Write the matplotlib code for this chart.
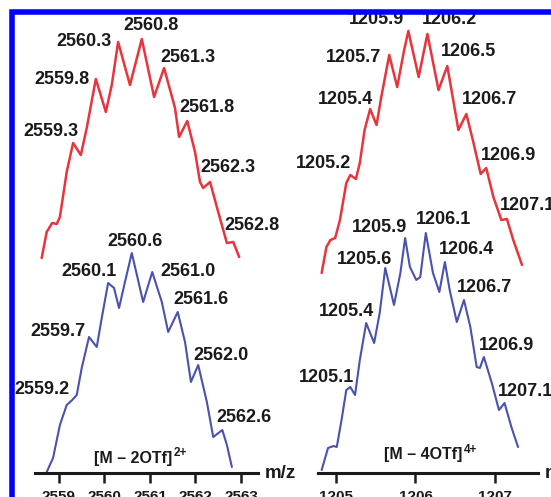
import matplotlib
matplotlib.use("Agg")
import matplotlib.pyplot as plt
from matplotlib.patches import Rectangle

plt.rcParams['font.family'] = ['Liberation Sans', 'DejaVu Sans']
plt.rcParams['font.weight'] = 'bold'

# [M - 2OTf]2+ isotope envelope, calculated (red) and measured (blue)
mz2_calc = [2558.62, 2558.73, 2558.85, 2558.95, 2559.02, 2559.17, 2559.31, 2559.48,
            2559.61, 2559.81, 2560.03, 2560.16, 2560.30, 2560.56, 2560.82, 2561.09,
            2561.31, 2561.55, 2561.64, 2561.82, 2561.99, 2562.10, 2562.17, 2562.32,
            2562.50, 2562.69, 2562.83, 2562.96]
int2_calc = [215, 241, 250, 249, 256, 301, 330, 318,
             345, 394, 361, 388, 431, 388, 434, 376,
             405, 365, 336, 352, 321, 291, 285, 291,
             261, 230, 231, 216]
mz2_obs = [2558.73, 2558.87, 2559.02, 2559.17, 2559.29, 2559.39, 2559.50, 2559.66,
           2559.83, 2559.94, 2560.08, 2560.21, 2560.32, 2560.45, 2560.60, 2560.85,
           2561.05, 2561.26, 2561.40, 2561.61, 2561.77, 2561.90, 2562.06, 2562.25,
           2562.39, 2562.59, 2562.69, 2562.80]
int2_obs = [1, 15, 48, 68, 73, 78, 105, 136,
            126, 155, 190, 185, 165, 191, 220, 171,
            201, 171, 141, 161, 131, 91, 108, 71,
            36, 43, 28, 6]

# [M - 4OTf]4+ isotope envelope
mz4_calc = [1204.82, 1204.88, 1204.93, 1204.99, 1205.05, 1205.13, 1205.18, 1205.25,
            1205.30, 1205.36, 1205.43, 1205.51, 1205.57, 1205.67, 1205.77, 1205.85,
            1205.91, 1206.04, 1206.15, 1206.29, 1206.40, 1206.54, 1206.64, 1206.73,
            1206.82, 1206.89, 1206.98, 1207.08, 1207.15, 1207.23, 1207.34]
int4_calc = [200, 226, 233, 235, 253, 290, 298, 294,
             310, 343, 364, 348, 376, 418, 386, 420,
             442, 396, 439, 383, 407, 343, 359, 330,
             299, 305, 276, 253, 254, 233, 208]
mz4_obs = [1204.82, 1204.90, 1204.97, 1205.01, 1205.07, 1205.13, 1205.18, 1205.24,
           1205.30, 1205.38, 1205.48, 1205.55, 1205.62, 1205.73, 1205.81, 1205.87,
           1205.93, 1206.01, 1206.06, 1206.13, 1206.22, 1206.30, 1206.37, 1206.43,
           1206.52, 1206.61, 1206.69, 1206.77, 1206.81, 1206.86, 1206.96, 1207.05,
           1207.12, 1207.21, 1207.29]
int4_obs = [3, 25, 27, 26, 53, 83, 86, 78,
            113, 150, 130, 160, 205, 168, 200, 235,
            206, 193, 196, 240, 200, 181, 211, 183,
            151, 173, 146, 106, 105, 116, 90, 63,
            70, 45, 26]

# peak labels
peaks2_calc = ['2559.3', '2559.8', '2560.3', '2560.8', '2561.3', '2561.8', '2562.3', '2562.8']
peaks2_obs = ['2559.2', '2559.7', '2560.1', '2560.6', '2561.0', '2561.6', '2562.0', '2562.6']
peaks4_calc = ['1205.2', '1205.4', '1205.7', '1205.9', '1206.2', '1206.5', '1206.7', '1206.9', '1207.1']
peaks4_obs = ['1205.1', '1205.4', '1205.6', '1205.9', '1206.1', '1206.4', '1206.7', '1206.9', '1207.1']

ticks2 = [2559, 2560, 2561, 2562, 2563]
ticks4 = [1205, 1206, 1207]

# label placement (m/z, height) for each peak label
lpos2_calc = [(2558.824, 341), (2559.066, 393), (2559.549, 432), (2561.022, 447),
              (2561.835, 416), (2562.253, 366), (2562.714, 305), (2563.242, 248)]
lpos2_obs = [(2558.626, 84), (2558.978, 141), (2559.659, 201), (2560.670, 231),
             (2561.835, 202), (2562.121, 173), (2562.560, 117), (2563.066, 55)]
lpos4_calc = [(1204.849, 309), (1205.126, 373), (1205.226, 416), (1205.516, 453),
              (1206.434, 454), (1206.673, 421), (1206.937, 373), (1207.164, 318),
              (1207.403, 267)]
lpos4_obs = [(1204.887, 96), (1205.138, 161), (1205.365, 213), (1205.553, 245),
             (1206.358, 253), (1206.648, 223), (1206.862, 186), (1207.151, 128),
             (1207.390, 81)]

RED = '#e8343c'
BLUE = '#4a52ad'
INK = '#1a1a1a'
W, H = 551, 497

fig = plt.figure(figsize=(W / 100, H / 100), dpi=100)
fig.patch.set_facecolor('white')


def panel(x0, x1, xlim, mz_c, int_c, mz_o, int_o, lab_c, pos_c, lab_o, pos_o,
          ticks, ion, charge, ion_pos):
    ax = fig.add_axes([x0 / W, 24 / H, (x1 - x0) / W, 463 / H])
    ax.set_xlim(*xlim)
    ax.set_ylim(0, 463)
    ax.patch.set_visible(False)
    for s in ['top', 'right', 'left']:
        ax.spines[s].set_visible(False)
    ax.spines['bottom'].set_linewidth(2.2)
    ax.spines['bottom'].set_color(INK)
    ax.set_yticks([])
    ax.set_xticks(ticks)
    ax.set_xticklabels([str(t) for t in ticks])
    ax.tick_params(axis='x', direction='out', length=7.5, width=1.8, pad=5,
                   labelsize=11, colors=INK)

    ax.plot(mz_c, int_c, color=RED, lw=1.8, solid_joinstyle='round',
            solid_capstyle='round')
    ax.plot(mz_o, int_o, color=BLUE, lw=1.5, solid_joinstyle='round',
            solid_capstyle='round')

    for txt, (lx, ly) in zip(lab_c + lab_o, pos_c + pos_o):
        ax.text(lx, ly, txt, ha='center', va='center', fontsize=13,
                fontweight='bold', color=INK)

    # ion formula with its charge as a superscript
    t = ax.text(ion_pos[0], ion_pos[1], ion, ha='center', va='center',
                fontsize=11.5, color=INK)
    ax.annotate(charge, xy=(1, 0.45), xycoords=t, xytext=(1, 0),
                textcoords='offset points', ha='left', va='bottom',
                fontsize=8.5, color=INK)
    ax.text(1.03, 0.0, 'm/z', transform=ax.transAxes, ha='left', va='center',
            fontsize=13.5, fontweight='bold', color=INK)
    return ax


panel(35, 258, (2558.473, 2563.374), mz2_calc, int2_calc, mz2_obs, int2_obs,
      peaks2_calc, lpos2_calc, peaks2_obs, lpos2_obs, ticks2,
      '[M – 2OTf]', '2+', (2560.62, 15))
panel(318, 538, (1204.774, 1207.541), mz4_calc, int4_calc, mz4_obs, int4_obs,
      peaks4_calc, lpos4_calc, peaks4_obs, lpos4_obs, ticks4,
      '[M – 4OTf]', '4+', (1206.10, 18))

# blue frame running off the right and bottom edges
fig.add_artist(Rectangle((12 / W, -0.1), 1.2, 1.1 - 12 / H, transform=fig.transFigure,
                         fill=False, ec='#0000ff', lw=4.0, zorder=10))

fig.savefig('out.png', dpi=100)
